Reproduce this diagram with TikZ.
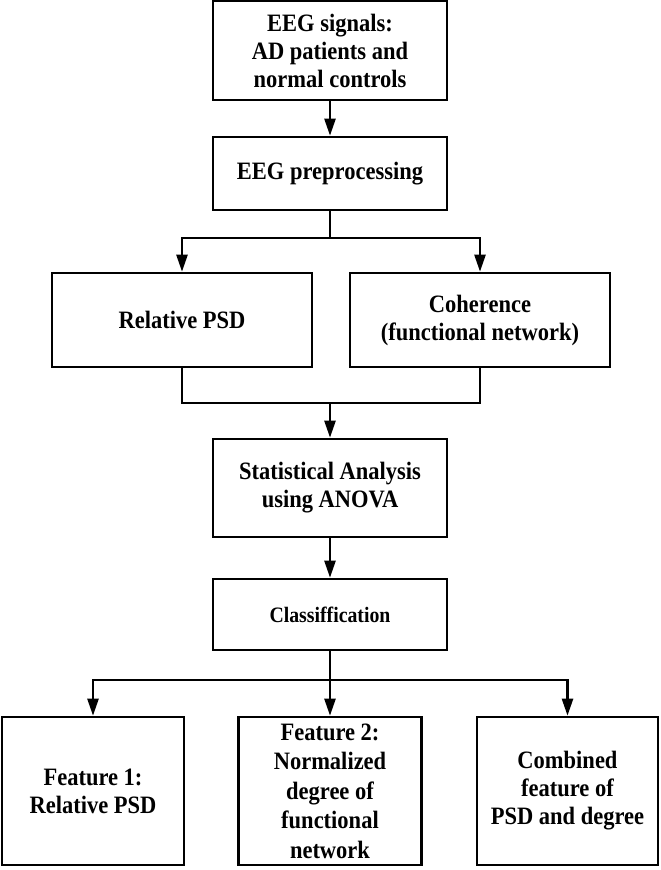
\documentclass[tikz,border=0pt]{standalone}
\usepackage{fontspec}
\setmainfont{Liberation Serif}
\newfontfamily\boxfont{Liberation Serif}[FakeStretch=0.9]
\usetikzlibrary{arrows.meta}
\begin{document}
\begin{tikzpicture}[x=1pt,y=-1pt,
  box/.style={draw, line width=2.6pt, align=center, inner sep=0pt,
    font=\boxfont\fontsize{25}{28}\selectfont\bfseries},
  arr/.style={line width=2.4pt, -{Triangle[length=17pt,width=11pt]}},
  con/.style={line width=2.4pt}]
\useasboundingbox (0,0) rectangle (661,870);
\node[box, minimum width=234pt, minimum height=99pt] (b1) at (330,50.5) {EEG signals:\\ AD patients and\\ normal controls};
\node[box, minimum width=234pt, minimum height=73pt] (b2) at (330,173.5) {EEG preprocessing};
\node[box, minimum width=260pt, minimum height=94pt] (b3) at (182,320) {Relative PSD};
\node[box, minimum width=260pt, minimum height=94pt] (b4) at (480,320) {Coherence\\(functional network)};
\node[box, minimum width=234pt, minimum height=98pt] (b5) at (330,488) {Statistical Analysis\\using ANOVA};
\node[box, minimum width=234pt, minimum height=71pt, font=\boxfont\fontsize{22}{26}\selectfont\bfseries] (b6) at (330,614.5) {Classiffication};
\node[box, minimum width=182pt, minimum height=148pt] (b7) at (93,791) {Feature 1:\\Relative PSD};
\node[box, minimum width=183pt, minimum height=148pt, font=\boxfont\fontsize{25}{29.5}\selectfont\bfseries] (b8) at (330,791) {Feature 2:\\Normalized\\degree of\\functional\\network};
\node[box, minimum width=181pt, minimum height=148pt] (b9) at (567.5,791) {Combined\\feature of\\PSD and degree};
\coordinate (s1) at (330,238);
\coordinate (m1) at (330,403);
\coordinate (s2) at (330,680);
\draw[arr] (b1.south) -- (b2.north);
\draw[con] (b2.south) -- (s1);
\draw[arr] (s1) -| (b3.north);
\draw[arr] (s1) -| (b4.north);
\draw[con] (b3.south) |- (m1);
\draw[con] (b4.south) |- (m1);
\draw[arr] (m1) -- (b5.north);
\draw[arr] (b5.south) -- (b6.north);
\draw[con] (b6.south) -- (s2);
\draw[arr] (s2) -| (b7.north);
\draw[arr] (s2) -- (b8.north);
\draw[arr] (s2) -| (b9.north);
\end{tikzpicture}
\end{document}
